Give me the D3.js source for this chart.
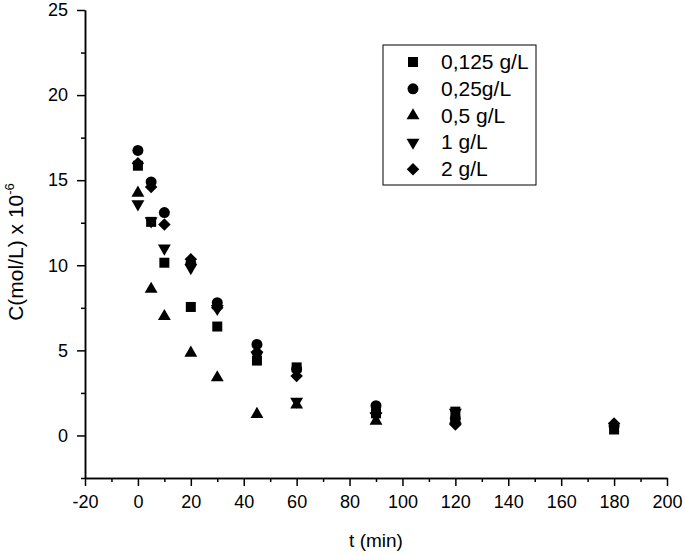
<!DOCTYPE html>
<html>
<head>
<meta charset="utf-8">
<script src="https://cdn.jsdelivr.net/npm/d3@7"></script>
<style>
body { margin: 0; background: #fff; }
text { font-family: "Liberation Sans", Arial, sans-serif; fill: #000; }
</style>
</head>
<body>
<script>
// sampling times (min)
var times = [0, 5, 10, 20, 30, 45, 60, 90, 120, 180];
var timesShort = [0, 5, 10, 20, 30, 45, 60, 90, 120];

// concentrations, x 10^-6 mol/L
var c0125 = [15.85, 12.55, 10.15, 7.55, 6.4, 4.4, 4.0, 1.3, 1.4, 0.35];
var c025 = [16.75, 14.9, 13.1, 10.1, 7.8, 5.35, 3.9, 1.75, 1.0, 0.55];
var c05 = [14.25, 8.6, 7.0, 4.85, 3.4, 1.25, 1.8, 0.85, 0.9];
var c1 = [13.6, 12.6, 11.0, 9.85, 7.45, 4.7, 2.0, 1.15, 1.35];
var c2 = [16.0, 14.6, 12.4, 10.35, 7.5, 4.9, 3.5, 1.3, 0.65, 0.7];

var labels = ["0,125 g/L", "0,25g/L", "0,5 g/L", "1 g/L", "2 g/L"];
var xTicks = [-20, 0, 20, 40, 60, 80, 100, 120, 140, 160, 180, 200];
var yTicks = [0, 5, 10, 15, 20, 25];

var width = 685, height = 554;
var margin = {left: 85, right: 18, top: 10, bottom: 76};

// diamond = square turned 45 degrees
var series = [
  {name: labels[0], t: times, c: c0125, sym: d3.symbolSquare, size: 100, rot: 0},
  {name: labels[1], t: times, c: c025, sym: d3.symbolCircle, size: 95, rot: 0},
  {name: labels[2], t: timesShort, c: c05, sym: d3.symbolTriangle, size: 72, rot: 0},
  {name: labels[3], t: timesShort, c: c1, sym: d3.symbolTriangle, size: 72, rot: 180},
  {name: labels[4], t: times, c: c2, sym: d3.symbolSquare, size: 78, rot: 45}
];

var svg = d3.select("body").append("svg")
  .attr("width", width)
  .attr("height", height);

var x = d3.scaleLinear().domain([-20, 200]).range([margin.left, width - margin.right]);
var y = d3.scaleLinear().domain([-2.5, 25]).range([height - margin.bottom, margin.top]);

//axes, major and minor ticks
var xMinor = d3.range(-20, 201, 10).filter(function(v){ return xTicks.indexOf(v) < 0; });
var yMinor = d3.range(-2.5, 25.1, 2.5).filter(function(v){ return yTicks.indexOf(v) < 0; });
var fmt = function(d){ return String(d); }; // plain hyphen for -20

var gx = svg.append("g").attr("transform", "translate(0," + y(-2.5) + ")");
gx.call(d3.axisBottom(x).tickValues(xTicks).tickFormat(fmt).tickSize(8).tickPadding(9).tickSizeOuter(0));
gx.append("g").call(d3.axisBottom(x).tickValues(xMinor).tickSize(4).tickFormat("").tickSizeOuter(0));

var gy = svg.append("g").attr("transform", "translate(" + x(-20) + ",0)");
gy.call(d3.axisLeft(y).tickValues(yTicks).tickFormat(fmt).tickSize(8).tickPadding(9).tickSizeOuter(0));
gy.append("g").call(d3.axisLeft(y).tickValues(yMinor).tickSize(4).tickFormat("").tickSizeOuter(0));

svg.selectAll(".domain").attr("stroke", "#000").attr("stroke-width", 1.5);
svg.selectAll(".tick line").attr("stroke", "#000").attr("stroke-width", 1.5);
svg.selectAll(".tick text").style("font-size", "18px").style("font-family", "Liberation Sans, Arial, sans-serif").attr("fill", "#000");

// axis titles
svg.append("text")
  .attr("x", (x(-20) + x(200)) / 2)
  .attr("y", 547)
  .attr("text-anchor", "middle")
  .style("font-size", "19px")
  .text("t (min)");

var yt = svg.append("text")
  .attr("transform", "translate(23,252) rotate(-90)")
  .attr("text-anchor", "middle")
  .style("font-size", "21px");
yt.append("tspan").text("C(mol/L) x 10");
yt.append("tspan").attr("dy", "-9").style("font-size", "13px").text("-6");

// points
series.forEach(function(s){
  var pts = s.t.map(function(t, i){ return [t, s.c[i]]; });
  svg.append("g").selectAll("path")
    .data(pts)
    .enter()
    .append("path")
    .attr("d", d3.symbol().type(s.sym).size(s.size))
    .attr("transform", function(d){
      return "translate(" + x(d[0]) + "," + y(d[1]) + ") rotate(" + s.rot + ")";
    })
    .attr("fill", "#000");
});

// legend
var lg = svg.append("g");
lg.append("rect")
  .attr("x", 383).attr("y", 45)
  .attr("width", 153).attr("height", 140)
  .attr("fill", "none").attr("stroke", "#000").attr("stroke-width", 1);

series.forEach(function(s, i){
  var yy = 62 + i * 26.8;
  lg.append("path")
    .attr("d", d3.symbol().type(s.sym).size(s.size))
    .attr("transform", "translate(413," + yy + ") rotate(" + s.rot + ")")
    .attr("fill", "#000");
  lg.append("text")
    .attr("x", 441)
    .attr("y", yy + 7)
    .style("font-size", "21px")
    .text(s.name);
});
</script>
</body>
</html>
